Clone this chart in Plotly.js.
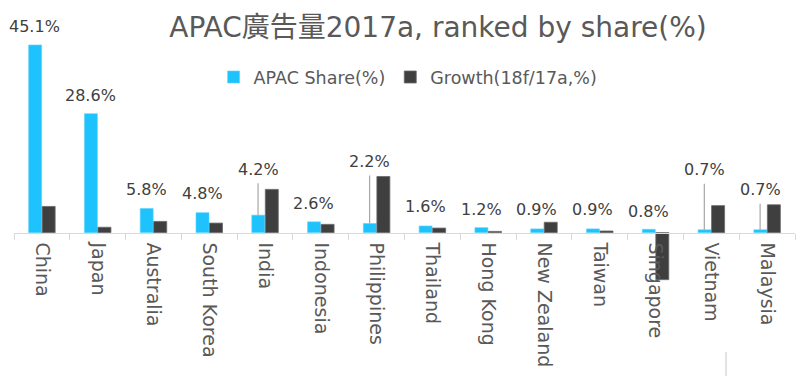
<!DOCTYPE html>
<html>
<head>
<meta charset="utf-8">
<script src="https://cdn.plot.ly/plotly-3.0.1.min.js"></script>
<style>html,body{margin:0;padding:0;background:#fff;}</style>
</head>
<body>
<div id="chart" style="width:800px;height:376px;"></div>
<script>
// ---- data ----
const countries = ['China','Japan','Australia','South Korea','India','Indonesia','Philippines','Thailand','Hong Kong','New Zealand','Taiwan','Singapore','Vietnam','Malaysia'];
const shareValues = [45.1, 28.6, 5.8, 4.8, 4.2, 2.6, 2.2, 1.6, 1.2, 0.9, 0.9, 0.8, 0.7, 0.7];
const growthValues = [6.3, 1.3, 2.7, 2.3, 10.4, 2.0, 13.5, 1.1, 0.3, 2.5, 0.4, -11.3, 6.5, 6.7];
const shareLabels = shareValues.map(v => v.toFixed(1) + '%');

// ---- label placement (layout only, pixels above the blue bar top) ----
const labelLift = [-18, -18, -19, -19, -46, -18, -62, -19, -18, -19, -19, -18, -60, -40];
const hasLeader = [false, false, false, false, true, false, true, false, false, false, false, false, true, true];

const FONT = 'DejaVu Sans, Noto Sans CJK TC, sans-serif';
const yMin = -12.1, yMax = 49.9;

const traces = [
  {
    type: 'bar', name: 'APAC Share(%)', x: countries, y: shareValues,
    marker: {color: '#1EC3FD', line: {color: '#5ed3fb', width: 0.6}},
    hoverinfo: 'skip'
  },
  {
    type: 'bar', name: 'Growth(18f/17a,%)', x: countries, y: growthValues,
    marker: {color: '#3f3f3f', line: {color: '#6a6a6a', width: 0.8}},
    hoverinfo: 'skip'
  }
];

const annotations = countries.map((c, i) => ({
  x: c, y: shareValues[i], xref: 'x', yref: 'y',
  text: shareLabels[i],
  xshift: -7,
  showarrow: true, arrowhead: 0, arrowwidth: hasLeader[i] ? 1.2 : 0.1,
  arrowcolor: hasLeader[i] ? '#a6a6a6' : 'rgba(0,0,0,0)',
  standoff: 0, startstandoff: 3,
  ax: 0, ay: labelLift[i],
  font: {family: FONT, size: 16, color: '#404040'}
}));

const layout = {
  width: 800, height: 376,
  margin: {l: 14, r: 5, t: 25, b: 93, autoexpand: false},
  paper_bgcolor: '#ffffff', plot_bgcolor: '#ffffff',
  font: {family: FONT, color: '#595959'},
  title: {
    text: 'APAC廣告量2017a, ranked by share(%)',
    font: {family: FONT, size: 28, color: '#595959'},
    xref: 'container', yref: 'container', x: 0.5475, xanchor: 'center', y: 0.928, yanchor: 'middle'
  },
  barmode: 'group', bargap: 0.515, bargroupgap: 0.04,
  showlegend: true,
  legend: {
    orientation: 'h', x: 0.2556, xanchor: 'left', y: 0.798, yanchor: 'middle',
    font: {family: FONT, size: 17.5, color: '#595959'},
    bgcolor: 'rgba(0,0,0,0)', traceorder: 'normal'
  },
  xaxis: {
    type: 'category', range: [-0.5, countries.length - 0.5], autorange: false,
    anchor: 'free', position: -yMin / (yMax - yMin), automargin: false,
    showline: true, linecolor: '#d9d9d9', linewidth: 1,
    ticks: 'outside', tickson: 'boundaries', ticklen: 6, tickcolor: '#d9d9d9', tickwidth: 1,
    tickangle: 90, ticklabelstandoff: 5, tickfont: {family: FONT, size: 19, color: '#595959'},
    showgrid: false, zeroline: false, fixedrange: true
  },
  yaxis: {
    range: [yMin, yMax], autorange: false, visible: false, showgrid: false, zeroline: false, fixedrange: true, automargin: false
  },
  annotations: annotations,
  shapes: [
    {type: 'line', xref: 'paper', yref: 'paper', x0: 0.9117, x1: 0.9117, y0: -0.267, y1: -0.37,
     line: {color: '#e3e3e3', width: 2}}
  ]
};

Plotly.newPlot('chart', traces, layout, {displayModeBar: false, staticPlot: true});
</script>
</body>
</html>
